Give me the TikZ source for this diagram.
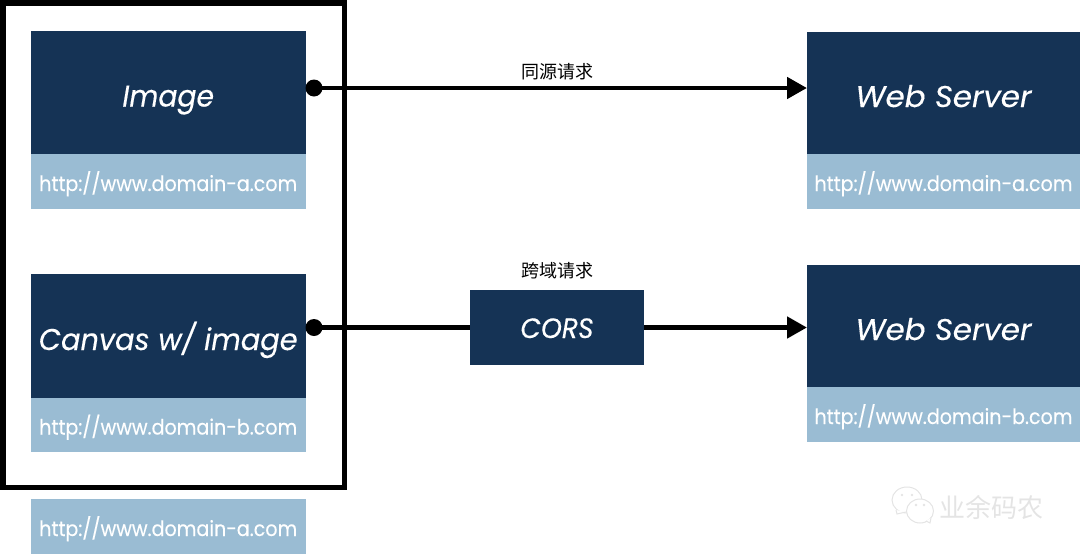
\documentclass[tikz,border=0pt]{standalone}
\usepackage{fontspec}
\setmainfont{Poppins}[FakeBold=0.25]
\newfontfamily\cjk{Noto Sans CJK SC}
\usetikzlibrary{arrows.meta}
\definecolor{navy}{HTML}{153355}
\definecolor{pale}{HTML}{9ABCD3}
\definecolor{markgrey}{HTML}{E4E4E4}
\tikzset{
  x=1pt,y=-1pt,
  box/.style={anchor=north west,inner sep=0pt,outer sep=0pt,fill=navy,text=white,text depth=0pt,text height=28pt,font=\fontsize{30}{36}\selectfont\itshape},
  urlbox/.style={anchor=north west,inner sep=0pt,outer sep=0pt,fill=pale,text=white,text depth=0pt,text height=19pt,font=\fontsize{21}{26}\selectfont},
  wire/.style={line width=4.8pt,black},
  tipped/.style={wire,-{Triangle[length=20pt,width=21pt]}},
  dotnode/.style={circle,fill=black,inner sep=0pt,minimum size=17pt},
  note/.style={font=\cjk\fontsize{18}{22}\selectfont,text=black},
  markchar/.style={font=\cjk\fontsize{26}{30}\selectfont,text=markgrey}
}
\newcommand{\urltext}[1]{\scalebox{.91}[1]{#1}}
\begin{document}
\begin{tikzpicture}
\useasboundingbox (0,0) rectangle (1080,555);
% client boxes
\node[box,minimum width=275.5pt,minimum height=123pt] (img) at (30.5,31) {\scalebox{.94}[1]{Image}};
\node[urlbox,minimum width=275.5pt,minimum height=55pt] (imgurl) at (30.5,154) {\urltext{http://www.domain-a.com}};
\node[box,minimum width=275.5pt,minimum height=124pt] (canvas) at (30.5,274) {\scalebox{.96}[1]{Canvas w/ image}};
\node[urlbox,minimum width=275.5pt,minimum height=54pt] (canvasurl) at (30.5,398) {\urltext{http://www.domain-b.com}};
\node[urlbox,minimum width=275.5pt,minimum height=55pt] (pageurl) at (30.5,499) {\urltext{http://www.domain-a.com}};
% page frame
\node[draw=black,line width=5.5pt,inner sep=0pt,outer sep=0pt,anchor=north west,minimum width=341.5pt,minimum height=484.5pt] (frame) at (3,3) {};
% servers
\node[box,minimum width=273pt,minimum height=122pt] (srva) at (807,32) {\scalebox{1.03}[1]{Web Server}};
\node[urlbox,minimum width=273pt,minimum height=55pt] (srvaurl) at (807,154) {\urltext{http://www.domain-a.com}};
\node[box,minimum width=273pt,minimum height=122pt] (srvb) at (807,265) {\scalebox{1.03}[1]{Web Server}};
\node[urlbox,minimum width=273pt,minimum height=55pt] (srvburl) at (807,387) {\urltext{http://www.domain-b.com}};
% proxy in the cross-origin path
\node[box,font=\fontsize{28}{34}\selectfont\itshape,text height=21pt,minimum width=174pt,minimum height=75pt] (cors) at (470,290) {\scalebox{.95}[1]{CORS}};
% connectors
\node[dotnode] (dota) at (314,88) {};
\node[dotnode] (dotb) at (314,327.5) {};
\draw[tipped] (dota.center) -- (srva.west |- dota);
\draw[wire] (dotb.center) -- (cors.west |- dotb);
\draw[tipped] (cors.east |- dotb) -- (srvb.west |- dotb);
% request labels
\node[note] (same) at (557,72) {同源请求};
\node[note] (cross) at (557,271) {跨域请求};
% account mark: two chat bubbles and the account name
\begin{scope}[draw=markgrey,fill=white,line width=1pt]
  \draw (907,500) ellipse [x radius=15,y radius=13];
  \filldraw (896,510) -- (897,514) -- (906,512);
  \filldraw (920,511) ellipse [x radius=13.5,y radius=12];
  \filldraw (926,521) -- (930,523) -- (931,518);
  \fill[markgrey] (902,495) circle (1.4) (912,495) circle (1.4) (916,505) circle (1.4) (924,505) circle (1.4);
\end{scope}
\node[markchar,anchor=west] (brand) at (936,507) {业余码农};
\end{tikzpicture}
\end{document}
